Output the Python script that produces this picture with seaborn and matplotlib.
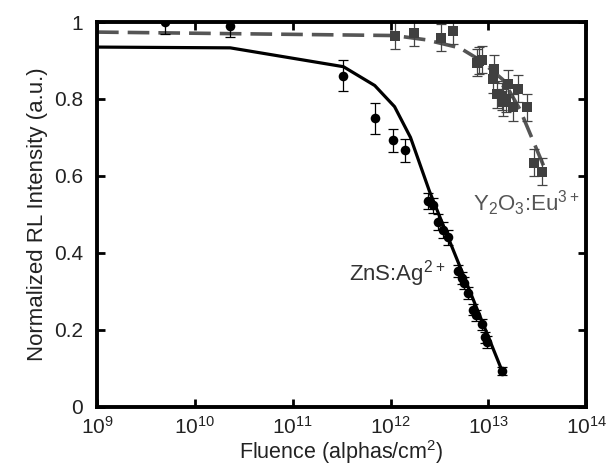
import numpy as np
import pandas as pd
import seaborn as sns
import matplotlib
matplotlib.use('Agg')
import matplotlib.pyplot as plt

# ZnS:Ag data (circles)
zns_fluence = [5.0e9, 2.3e10, 3.3e11, 6.9e11, 1.05e12, 1.4e12, 2.43e12, 2.73e12, 3.07e12,
               3.45e12, 3.88e12, 4.91e12, 5.4e12, 5.66e12, 6.21e12, 7.0e12, 7.5e12,
               8.65e12, 9.27e12, 9.73e12, 1.38e13]
zns_intensity = [1.0, 0.99, 0.861, 0.75, 0.693, 0.667, 0.535, 0.523, 0.48, 0.459, 0.44,
                 0.353, 0.335, 0.322, 0.296, 0.252, 0.237, 0.214, 0.18, 0.168, 0.093]
zns_err = [0.03, 0.03, 0.04, 0.04, 0.03, 0.03, 0.02, 0.02, 0.02, 0.02, 0.02,
           0.015, 0.015, 0.015, 0.015, 0.015, 0.015, 0.015, 0.015, 0.015, 0.01]

# Y2O3:Eu data (squares)
y2o3_fluence = [1.1e12, 1.74e12, 3.3e12, 4.4e12, 7.7e12, 8.65e12, 8.1e12, 1.15e13, 1.12e13,
                1.58e13, 1.23e13, 1.38e13, 1.41e13, 1.5e13, 2.0e13, 1.78e13, 2.5e13,
                2.95e13, 3.55e13]
y2o3_intensity = [0.964, 0.972, 0.959, 0.977, 0.894, 0.902, 0.90, 0.879, 0.851, 0.840,
                  0.812, 0.807, 0.791, 0.80, 0.827, 0.778, 0.778, 0.634, 0.611]
y2o3_err = 0.035

# fitted curves
zns_fit_x = [1e9, 2.3e10, 3.3e11, 6.9e11, 1.1e12, 1.6e12, 2.5e12, 1.38e13]
zns_fit_y = [0.935, 0.933, 0.884, 0.835, 0.78, 0.7, 0.56, 0.093]
y2o3_fit_x = [1e9, 1.1e12, 2.3e12, 5.1e12, 8.1e12, 1.41e13, 2.1e13, 3.2e13, 3.9e13]
y2o3_fit_y = [0.974, 0.965, 0.954, 0.933, 0.902, 0.85, 0.773, 0.662, 0.61]

sns.set_style("ticks")
plt.rcParams['font.family'] = ['Liberation Sans', 'DejaVu Sans']
plt.rcParams['mathtext.fontset'] = 'custom'
plt.rcParams['mathtext.rm'] = 'Liberation Sans'

fig = plt.figure(figsize=(6.1, 4.7), dpi=100)
ax = fig.add_axes([0.159, 0.135, 0.802, 0.818])

df_zns = pd.DataFrame({'x': zns_fluence, 'y': zns_intensity})
df_y = pd.DataFrame({'x': y2o3_fluence, 'y': y2o3_intensity})

# fits
sns.lineplot(x=y2o3_fit_x, y=y2o3_fit_y, ax=ax, color='#555555', lw=2.6,
             linestyle=(0, (6, 2.5)), sort=False)
sns.lineplot(x=zns_fit_x, y=zns_fit_y, ax=ax, color='black', lw=2.3, sort=False)

# error bars
ax.errorbar(y2o3_fluence, y2o3_intensity, yerr=y2o3_err, fmt='none',
            ecolor='#444444', elinewidth=0.9, capsize=3.5, capthick=0.9)
ax.errorbar(zns_fluence, zns_intensity, yerr=zns_err, fmt='none',
            ecolor='black', elinewidth=0.9, capsize=3.5, capthick=0.9)

# points
sns.scatterplot(data=df_y, x='x', y='y', ax=ax, marker='s', s=60,
                color='#404040', edgecolor='#404040', linewidth=0, zorder=5)
sns.scatterplot(data=df_zns, x='x', y='y', ax=ax, marker='o', s=48,
                color='black', edgecolor='black', linewidth=0, zorder=5)

ax.set_xscale('log')
ax.set_xlim(1e9, 1e14)
ax.set_ylim(0, 1)
ax.set_xticks([1e9, 1e10, 1e11, 1e12, 1e13, 1e14])
ax.minorticks_off()
ax.set_yticks([0, 0.2, 0.4, 0.6, 0.8, 1.0])
ax.set_yticklabels(['0', '0.2', '0.4', '0.6', '0.8', '1'])

ax.tick_params(direction='in', length=6, width=2, labelsize=15,
               top=True, right=True, colors='black', labelcolor='#222222')
ax.tick_params(axis='x', pad=7)
ax.tick_params(axis='y', pad=10)
for sp in ax.spines.values():
    sp.set_linewidth(2.8)
    sp.set_color('black')
    sp.set_visible(True)

ax.set_xlabel('Fluence (alphas/cm$^{2}$)', fontsize=15.5, color='#222222', labelpad=0)
ax.set_ylabel('Normalized RL Intensity (a.u.)', fontsize=16, color='#222222', labelpad=4)

ax.text(3.8e11, 0.345, 'ZnS:Ag$^{2+}$', fontsize=16, color='#333333', va='center')
ax.text(6.9e12, 0.53, 'Y$_{2}$O$_{3}$:Eu$^{3+}$', fontsize=16, color='#555555', va='center')

fig.savefig('out.png', dpi=100)
